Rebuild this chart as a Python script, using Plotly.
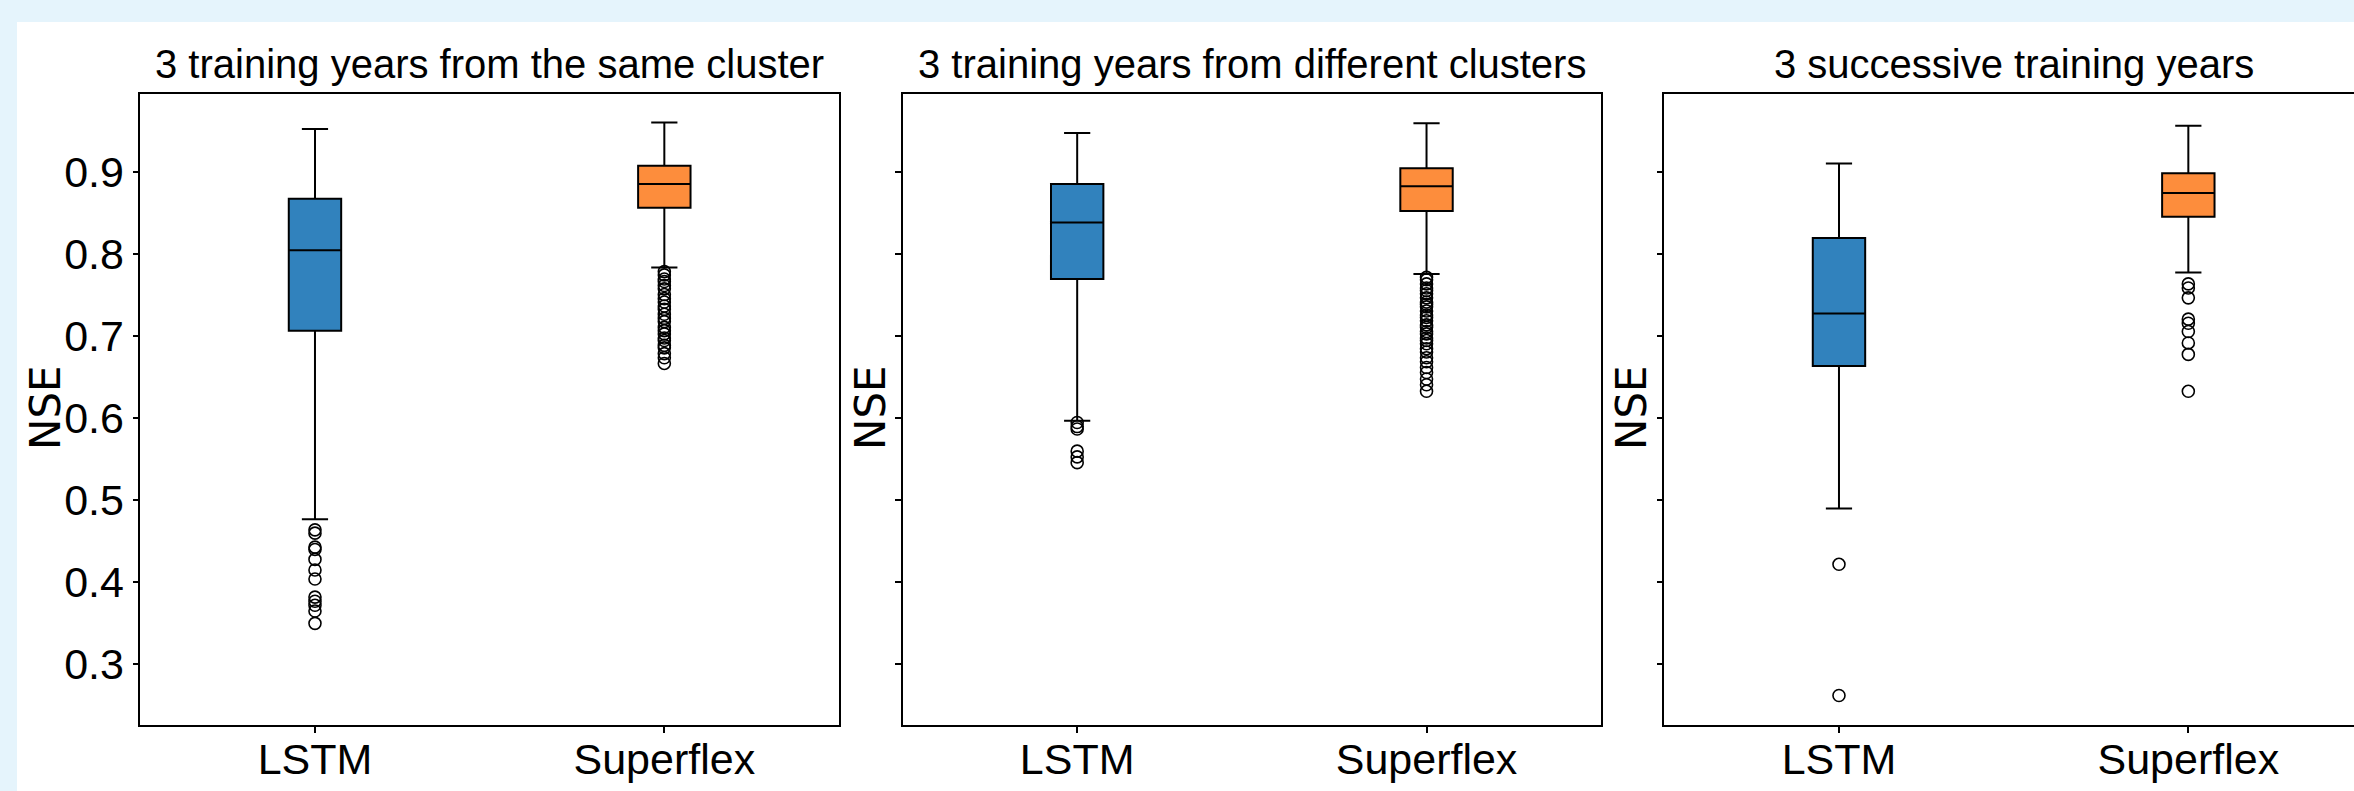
import plotly.graph_objects as go

categories = ["LSTM", "Superflex"]
panel_titles = [
    "3 training years from the same cluster",
    "3 training years from different clusters",
    "3 successive training years",
]
y_ticks = [0.3, 0.4, 0.5, 0.6, 0.7, 0.8, 0.9]

# box stats per panel, order: LSTM, Superflex
lower = [[0.477, 0.784], [0.597, 0.776], [0.490, 0.778]]
q1 = [[0.707, 0.857], [0.770, 0.853], [0.664, 0.846]]
median = [[0.805, 0.886], [0.839, 0.883], [0.728, 0.875]]
q3 = [[0.868, 0.908], [0.886, 0.905], [0.820, 0.899]]
upper = [[0.953, 0.961], [0.948, 0.960], [0.911, 0.957]]

out_lstm = [
    [0.464, 0.460, 0.443, 0.440, 0.428, 0.415, 0.404, 0.382, 0.377, 0.372, 0.365, 0.350],
    [0.595, 0.590, 0.587, 0.560, 0.553, 0.546],
    [0.422, 0.262],
]
out_sf = [
    [0.779, 0.775, 0.770, 0.767, 0.762, 0.758, 0.751, 0.746, 0.742, 0.737, 0.733,
     0.727, 0.722, 0.718, 0.711, 0.707, 0.703, 0.698, 0.695, 0.689, 0.686, 0.679,
     0.674, 0.667],
    [0.772, 0.769, 0.764, 0.759, 0.756, 0.752, 0.747, 0.742, 0.739, 0.736, 0.731,
     0.726, 0.723, 0.719, 0.714, 0.711, 0.706, 0.703, 0.698, 0.695, 0.691, 0.685,
     0.681, 0.674, 0.669, 0.662, 0.656, 0.648, 0.641, 0.633],
    [0.764, 0.759, 0.747, 0.721, 0.716, 0.706, 0.692, 0.678, 0.633],
]

colors = ["#3182bd", "#fd8d3c"]

W, H = 2354, 791
panel_left = [140.3, 902.5, 1664.3]
panel_w = 698.7
plot_top, plot_bottom = 93.7, 725
nse_x = [45, 870, 1631]

txt_font = "Liberation Sans, Arial, sans-serif"

fig = go.Figure()

for i in range(3):
    xa = "x" if i == 0 else "x%d" % (i + 1)
    ya = "y" if i == 0 else "y%d" % (i + 1)
    for j, cat in enumerate(categories):
        fig.add_trace(go.Box(
            x=[cat], q1=[q1[i][j]], median=[median[i][j]], q3=[q3[i][j]],
            lowerfence=[lower[i][j]], upperfence=[upper[i][j]],
            fillcolor=colors[j], line=dict(color="black", width=2),
            width=0.15, whiskerwidth=0.5, boxpoints=False,
            xaxis=xa, yaxis=ya, showlegend=False, hoverinfo="skip",
        ))
        outs = out_lstm[i] if j == 0 else out_sf[i]
        fig.add_trace(go.Scatter(
            x=[cat] * len(outs), y=outs, mode="markers",
            marker=dict(symbol="circle-open", size=12, color="black",
                        line=dict(width=1.6, color="black")),
            xaxis=xa, yaxis=ya, showlegend=False, hoverinfo="skip",
        ))

layout = dict(
    width=W, height=H,
    margin=dict(l=0, r=0, t=0, b=0),
    paper_bgcolor="white", plot_bgcolor="white",
    shapes=[
        dict(type="rect", xref="paper", yref="paper", x0=0, x1=1,
             y0=1 - 22 / H, y1=1, fillcolor="#e5f4fc", line_width=0, layer="below"),
        dict(type="rect", xref="paper", yref="paper", x0=0, x1=17 / W,
             y0=0, y1=1, fillcolor="#e5f4fc", line_width=0, layer="below"),
    ],
    annotations=[],
)

ydom = [1 - plot_bottom / H, 1 - plot_top / H]
for i in range(3):
    sfx = "" if i == 0 else str(i + 1)
    x0 = panel_left[i]
    x1 = min(x0 + panel_w, W)
    xmax = -0.5 + 2 * (x1 - x0) / panel_w
    layout["xaxis" + sfx] = dict(
        domain=[x0 / W, x1 / W], anchor="y" + sfx, type="category",
        categoryorder="array", categoryarray=categories,
        range=[-0.5, xmax], showline=True, linecolor="black", linewidth=1.5,
        mirror=True, ticks="outside", ticklen=6, tickwidth=1.5, tickcolor="black",
        ticklabelstandoff=-10,
        showgrid=False, zeroline=False,
        tickfont=dict(family=txt_font, size=43, color="black"),
    )
    layout["yaxis" + sfx] = dict(
        domain=ydom, anchor="x" + sfx, range=[0.226, 0.996],
        tickvals=y_ticks, ticktext=["%.1f" % v for v in y_ticks],
        showticklabels=(i == 0),
        showline=True, linecolor="black", linewidth=1.5, mirror=(i < 2),
        ticks="outside", ticklen=6, tickwidth=1.5, tickcolor="black",
        showgrid=False, zeroline=False,
        tickfont=dict(family=txt_font, size=43, color="black"),
    )
    layout["annotations"].append(dict(
        text=panel_titles[i], xref="paper", yref="paper",
        x=(x0 + panel_w / 2) / W, y=1 - 64 / H, xanchor="center", yanchor="middle",
        showarrow=False, font=dict(family=txt_font, size=40, color="black"),
    ))
    layout["annotations"].append(dict(
        text="NSE", xref="paper", yref="paper", textangle=-90,
        x=nse_x[i] / W, y=1 - 408 / H, xanchor="center", yanchor="middle",
        showarrow=False, font=dict(family="DejaVu Sans", size=42, color="black"),
    ))

fig.update_layout(**layout)

fig.write_html("out.html", config={"displayModeBar": False},
               post_script="document.body.style.margin='0';document.body.style.overflow='hidden';")
